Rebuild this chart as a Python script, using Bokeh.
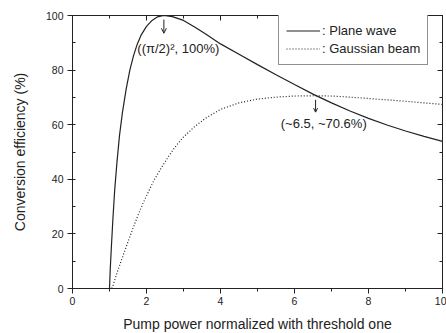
from bokeh.plotting import figure
from bokeh.models import (LinearAxis, SingleIntervalTicker, Legend, LegendItem, Arrow,
                          OpenHead, Range1d, CustomJSTickFormatter, Label)
from bokeh.embed import file_html
from bokeh.resources import INLINE

# ---- data ----
plane_x = [1.00, 1.02, 1.05, 1.09, 1.14, 1.20, 1.27, 1.35, 1.45, 1.55, 1.65, 1.75, 1.85,
           2.00, 2.15, 2.30, 2.47, 2.70, 3.00, 3.30, 3.60, 4.00, 4.50, 5.00, 5.50, 6.00,
           6.50, 7.00, 7.50, 8.00, 8.50, 9.00, 9.50, 10.0]
plane_y = [0, 7, 15, 25, 36, 46, 56, 64.5, 73, 80, 85.3, 89.5, 92.7,
           96.0, 98.2, 99.5, 100, 99.6, 98.2, 95.8, 93.2, 89.6, 85.8, 82.0, 78.3, 74.7,
           71.2, 68.0, 65.0, 62.3, 59.9, 57.7, 55.7, 53.9]

gauss_x = [1.06, 1.10, 1.20, 1.30, 1.40, 1.50, 1.60, 1.70, 1.80, 1.90, 2.00, 2.20, 2.40,
           2.60, 2.80, 3.00, 3.30, 3.60, 4.00, 4.50, 5.00, 5.50, 6.00, 6.50, 7.00, 7.50,
           8.00, 8.50, 9.00, 9.50, 10.0]
gauss_y = [0, 1.3, 5.6, 9.5, 13.3, 17.1, 20.8, 24.4, 27.8, 31.0, 34.0, 39.6, 44.2,
           48.5, 52.3, 55.5, 59.3, 62.4, 65.6, 68.0, 69.4, 70.1, 70.5, 70.6, 70.5, 70.1,
           69.6, 69.1, 68.6, 68.0, 67.4]

series_labels = [": Plane wave", ": Gaussian beam"]
x_title = "Pump power normalized with threshold one"
y_title = "Conversion efficiency (%)"

peak_point = (2.47, 100)
peak_text = "((π/2)², 100%)"
cross_point = (6.5, 70.6)
cross_text = "(~6.5, ~70.6%)"

FONT = "Liberation Sans"
INK = "#222222"

p = figure(frame_width=370, frame_height=273, width=446, height=333,
           x_range=Range1d(0, 10), y_range=Range1d(0, 100),
           output_backend="svg", toolbar_location=None,
           x_axis_type=None, y_axis_type=None,
           min_border_left=72, min_border_right=4, min_border_top=15, min_border_bottom=45)
p.background_fill_color = "white"
p.border_fill_color = "white"
p.outline_line_color = INK
p.outline_line_width = 1
p.xgrid.visible = False
p.ygrid.visible = False


def style_axis(ax, labels=True):
    ax.axis_line_color = INK
    ax.major_tick_line_color = INK
    ax.minor_tick_line_color = INK
    ax.major_label_text_font = FONT
    ax.major_label_text_color = INK
    ax.axis_label_text_font = FONT
    ax.axis_label_text_color = INK
    ax.axis_label_text_font_style = "normal"
    if not labels:
        ax.formatter = CustomJSTickFormatter(code="return ''")
        ax.major_label_standoff = 0
        ax.major_tick_out = 0
        ax.major_tick_in = 5
        ax.minor_tick_out = 0
        ax.minor_tick_in = 3


xb = LinearAxis(ticker=SingleIntervalTicker(interval=2, num_minor_ticks=2), axis_label=x_title)
style_axis(xb)
xb.major_tick_out = 5
xb.major_tick_in = 0
xb.minor_tick_out = 3
xb.minor_tick_in = 0
xb.major_label_text_font_size = "10.5px"
xb.axis_label_text_font_size = "14px"
xb.major_label_standoff = 3
xb.axis_label_standoff = 8
p.add_layout(xb, "below")

yl = LinearAxis(ticker=SingleIntervalTicker(interval=20, num_minor_ticks=2), axis_label=y_title)
style_axis(yl)
yl.major_tick_out = 5
yl.major_tick_in = 0
yl.minor_tick_out = 0
yl.minor_tick_in = 3
yl.major_label_text_font_size = "10.5px"
yl.axis_label_text_font_size = "14px"
yl.major_label_standoff = 4
yl.axis_label_standoff = 15
p.add_layout(yl, "left")

xt = LinearAxis(ticker=SingleIntervalTicker(interval=2, num_minor_ticks=2))
style_axis(xt, labels=False)
p.add_layout(xt, "above")

yr = LinearAxis(ticker=SingleIntervalTicker(interval=20, num_minor_ticks=2))
style_axis(yr, labels=False)
p.add_layout(yr, "right")

r1 = p.line(plane_x, plane_y, line_color=INK, line_width=1.2)
r2 = p.line(gauss_x, gauss_y, line_color=INK, line_width=1.2, line_dash="1 2")

legend = Legend(items=[LegendItem(label=series_labels[0], renderers=[r1]),
                       LegendItem(label=series_labels[1], renderers=[r2])],
                location=(206, 223))
legend.border_line_color = INK
legend.border_line_width = 1
legend.background_fill_alpha = 1
legend.label_text_font = FONT
legend.label_text_font_size = "13px"
legend.label_text_color = INK
legend.glyph_width = 34
legend.glyph_height = 17
legend.label_height = 17
legend.label_standoff = 2
legend.spacing = 1
legend.padding = 7
legend.margin = 0
p.add_layout(legend)

# annotations
p.add_layout(Arrow(end=OpenHead(size=5, line_color=INK, line_width=1),
                   x_start=peak_point[0], y_start=peak_point[1] - 1.5,
                   x_end=peak_point[0], y_end=peak_point[1] - 6.5,
                   line_color=INK, line_width=1))
p.add_layout(Label(x=2.86, y=87.8, text=peak_text, text_font=FONT, text_font_size="13px",
                   text_color=INK, text_align="center", text_baseline="middle"))

p.add_layout(Arrow(end=OpenHead(size=4, line_color=INK, line_width=1),
                   x_start=cross_point[0] + 0.07, y_start=cross_point[1] - 1.5,
                   x_end=cross_point[0] + 0.07, y_end=cross_point[1] - 6.0,
                   line_color=INK, line_width=1))
p.add_layout(Label(x=6.79, y=60.3, text=cross_text, text_font=FONT, text_font_size="13px",
                   text_color=INK, text_align="center", text_baseline="middle"))

open("out.html", "w").write(file_html(p, INLINE))
